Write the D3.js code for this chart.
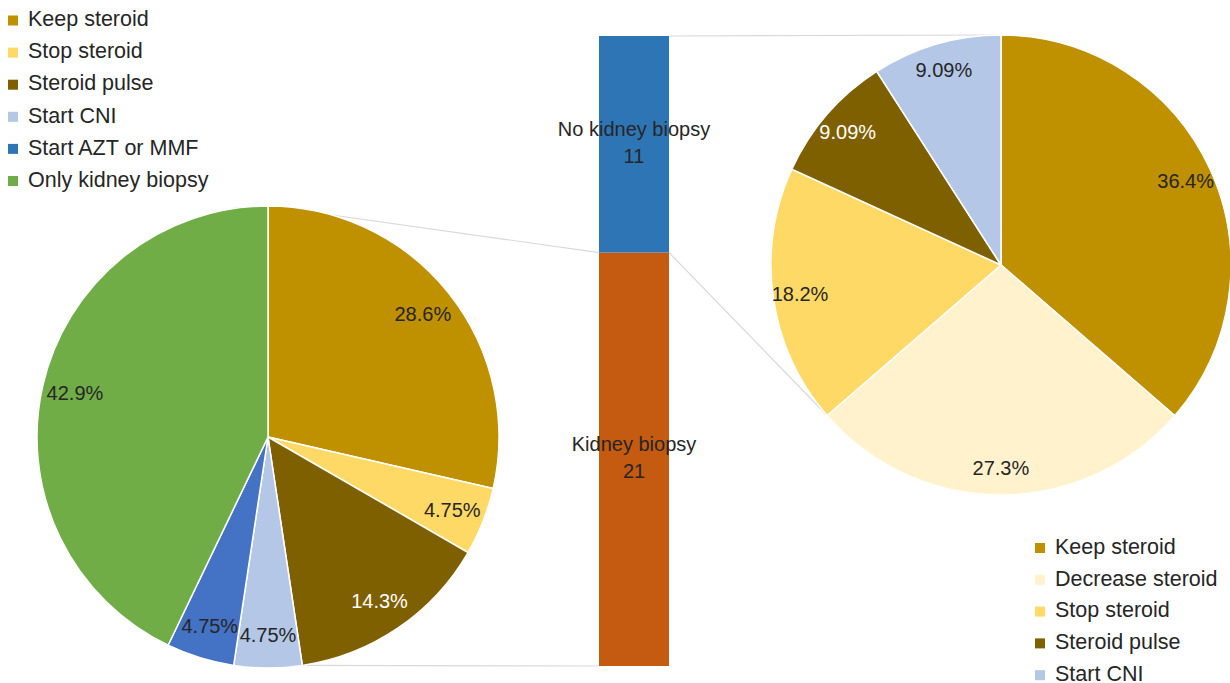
<!DOCTYPE html>
<html>
<head>
<meta charset="utf-8">
<script src="https://cdn.jsdelivr.net/npm/d3@7"></script>
<style>
  html, body { margin: 0; padding: 0; background: #fff; }
  svg { display: block; font-family: "Liberation Sans", Arial, sans-serif; }
</style>
</head>
<body>
<svg id="chart" width="1230" height="683"></svg>
<script>
// ---- data ----
const leftCategories = ["Keep steroid", "Stop steroid", "Steroid pulse", "Start CNI", "Start AZT or MMF", "Only kidney biopsy"];
const leftValues = [28.6, 4.75, 14.3, 4.75, 4.75, 42.9];
const leftLabels = ["28.6%", "4.75%", "14.3%", "4.75%", "4.75%", "42.9%"];

const barCategories = ["Kidney biopsy", "No kidney biopsy"];
const barValues = [21, 11];

const rightCategories = ["Keep steroid", "Decrease steroid", "Stop steroid", "Steroid pulse", "Start CNI"];
const rightValues = [36.4, 27.3, 18.2, 9.09, 9.09];
const rightLabels = ["36.4%", "27.3%", "18.2%", "9.09%", "9.09%"];

// ---- styles ----
const leftColors = ["#BF9000", "#FFD966", "#7F6000", "#B4C7E7", "#4472C4", "#70AD47"];
const leftLegendColors = ["#BF9000", "#FFD966", "#7F6000", "#B4C7E7", "#2E75B6", "#70AD47"];
const leftLabelColors = ["#262626", "#262626", "#ffffff", "#262626", "#262626", "#262626"];
const barColors = ["#C55A11", "#2E75B6"];
const rightColors = ["#BF9000", "#FFF2CC", "#FFD966", "#7F6000", "#B4C7E7"];
const rightLabelColors = ["#262626", "#262626", "#262626", "#ffffff", "#262626"];
const textColor = "#262626";

const svg = d3.select("#chart");

// geometry
const L = { cx: 268, cy: 437, r: 231 };
const R = { cx: 1001, cy: 265, r: 230 };
const bar = { x0: 599, x1: 669, top: 36, bottom: 666 };

const pie = d3.pie().sort(null).value(d => d);
const leftArcs = pie(leftValues);
const rightArcs = pie(rightValues);

const yBar = d3.scaleLinear().domain([0, d3.sum(barValues)]).range([bar.bottom, bar.top]);
const stackData = [];
let acc = 0;
barValues.forEach((v, i) => { stackData.push({ i, y0: acc, y1: acc + v, v }); acc += v; });

function pt(c, ang) { return [c.cx + c.r * Math.sin(ang), c.cy - c.r * Math.cos(ang)]; }

// connector lines (behind)
const lineG = svg.append("g").attr("stroke", "#D9D9D9").attr("stroke-width", 1.2).attr("fill", "none");
const lTop = pt(L, leftArcs[0].startAngle);
const lBot = pt(L, leftArcs[2].endAngle);
const rTop = pt(R, rightArcs[0].startAngle);
const rBot = pt(R, rightArcs[1].endAngle);
lineG.append("line").attr("x1", lTop[0]).attr("y1", lTop[1]).attr("x2", bar.x0).attr("y2", yBar(barValues[0]));
lineG.append("line").attr("x1", lBot[0]).attr("y1", lBot[1]).attr("x2", bar.x0).attr("y2", yBar(0));
lineG.append("line").attr("x1", bar.x1).attr("y1", yBar(d3.sum(barValues))).attr("x2", rTop[0]).attr("y2", rTop[1]);
lineG.append("line").attr("x1", bar.x1).attr("y1", yBar(barValues[0])).attr("x2", rBot[0]).attr("y2", rBot[1]);

// left pie
const arcL = d3.arc().innerRadius(0).outerRadius(L.r);
const gL = svg.append("g").attr("transform", `translate(${L.cx},${L.cy})`);
gL.selectAll("path").data(leftArcs).join("path")
  .attr("d", arcL).attr("fill", (d, i) => leftColors[i])
  .attr("stroke", "#fff").attr("stroke-width", 1.5);
const labArcL = d3.arc().innerRadius(198).outerRadius(198);
gL.selectAll("text").data(leftArcs).join("text")
  .attr("transform", d => `translate(${labArcL.centroid(d)})`)
  .attr("text-anchor", "middle").attr("dy", "0.36em")
  .attr("font-size", 20).attr("fill", (d, i) => leftLabelColors[i])
  .text((d, i) => leftLabels[i]);

// right pie
const arcR = d3.arc().innerRadius(0).outerRadius(R.r);
const gR = svg.append("g").attr("transform", `translate(${R.cx},${R.cy})`);
gR.selectAll("path").data(rightArcs).join("path")
  .attr("d", arcR).attr("fill", (d, i) => rightColors[i])
  .attr("stroke", "#fff").attr("stroke-width", 1.5);
const labArcR = d3.arc().innerRadius(203).outerRadius(203);
gR.selectAll("text").data(rightArcs).join("text")
  .attr("transform", d => `translate(${labArcR.centroid(d)})`)
  .attr("text-anchor", "middle").attr("dy", "0.36em")
  .attr("font-size", 20).attr("fill", (d, i) => rightLabelColors[i])
  .text((d, i) => rightLabels[i]);

// bar
const gB = svg.append("g");
gB.selectAll("rect").data(stackData).join("rect")
  .attr("x", bar.x0).attr("width", bar.x1 - bar.x0)
  .attr("y", d => yBar(d.y1)).attr("height", d => yBar(d.y0) - yBar(d.y1))
  .attr("fill", d => barColors[d.i]);
stackData.forEach(d => {
  const cy = (yBar(d.y0) + yBar(d.y1)) / 2 - 3;
  const t = gB.append("text").attr("x", (bar.x0 + bar.x1) / 2).attr("y", cy)
    .attr("text-anchor", "middle").attr("font-size", 20).attr("fill", textColor);
  t.append("tspan").attr("x", (bar.x0 + bar.x1) / 2).attr("dy", "-0.25em").text(barCategories[d.i]);
  t.append("tspan").attr("x", (bar.x0 + bar.x1) / 2).attr("dy", "1.35em").text(d.v);
});

// legends
function legend(x, y, step, cats, colors) {
  const g = svg.append("g").attr("transform", `translate(${x},${y})`);
  const it = g.selectAll("g").data(cats).join("g").attr("transform", (d, i) => `translate(0,${i * step})`);
  it.append("rect").attr("x", 0).attr("y", -3).attr("width", 10).attr("height", 10).attr("fill", (d, i) => colors[i]);
  it.append("text").attr("x", 20).attr("y", 0).attr("dy", "0.36em")
    .attr("font-size", 21.5).attr("fill", textColor).text(d => d);
}
legend(8, 18.5, 32.1, leftCategories, leftLegendColors);
legend(1035, 546, 31.8, rightCategories, rightColors);
</script>
</body>
</html>
